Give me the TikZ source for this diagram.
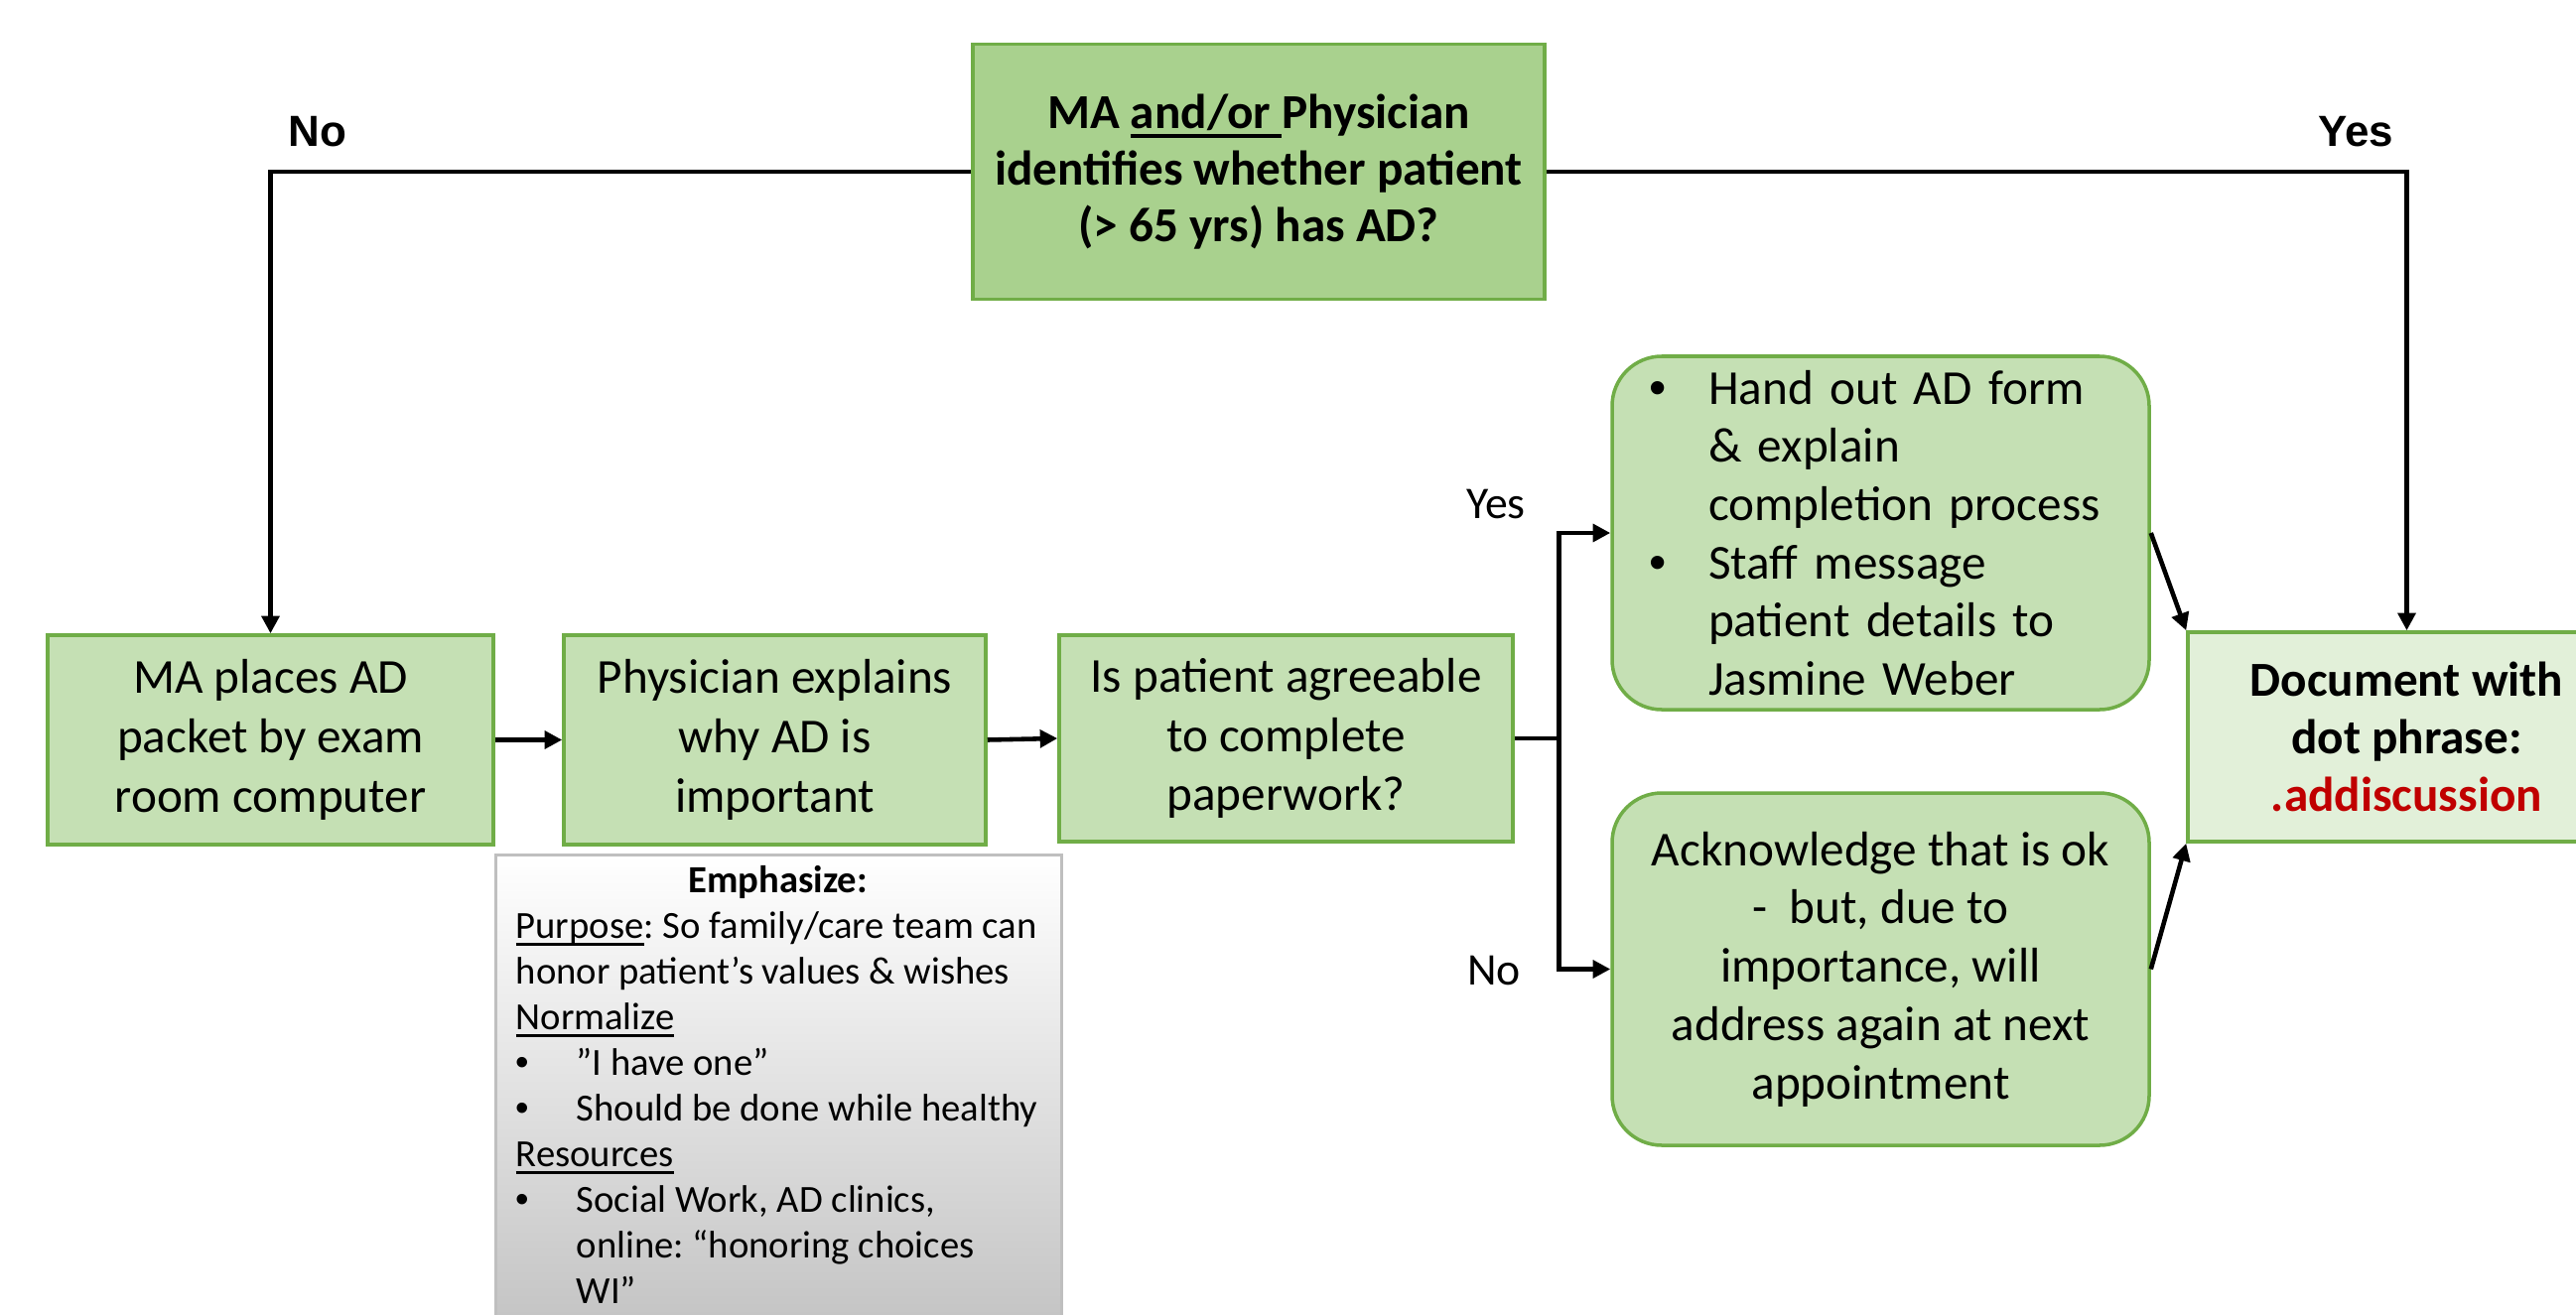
\documentclass[tikz,border=0pt]{standalone}
\usepackage{fontspec}
\setmainfont{Carlito}
\newfontfamily\labelfont{Liberation Sans}
\usetikzlibrary{arrows.meta}

\definecolor{boxgreen}{HTML}{C5E0B4}
\definecolor{topgreen}{HTML}{A9D18E}
\definecolor{docgreen}{HTML}{E2F0D9}
\definecolor{edgegreen}{HTML}{70AD47}
\definecolor{dotred}{HTML}{C00000}
\definecolor{panelgray}{HTML}{BFBFBF}

\newcommand{\bul}{\makebox[0.61cm][l]{{\labelfont •}}}
\newcommand{\hbul}{\hspace*{-0.06cm}\makebox[0.60cm][l]{{\labelfont •}}}
% underline at a fixed distance below the baseline
\newcommand{\uln}[1]{\setbox0\hbox{#1}\rlap{\rule[-0.21em]{\wd0}{0.09em}}\box0}
\frenchspacing

\begin{document}
\begin{tikzpicture}[
  flowbox/.style={draw=edgegreen, line width=1pt, fill=boxgreen, align=center,
    inner sep=0pt, font=\fontsize{14}{17}\selectfont},
  roundbox/.style={flowbox, rounded corners=0.5cm, font=\fontsize{14}{16.7}\selectfont},
  flowline/.style={line width=1.3pt, black},
  flowarrow/.style={flowline, -{Triangle[length=5pt,width=5pt]}},
  mainlabel/.style={font=\labelfont\bfseries\fontsize{12.5}{14}\selectfont, anchor=base},
  sidelabel/.style={font=\fontsize{13}{15}\selectfont, anchor=base}
]
\useasboundingbox (0,0) rectangle (25.95,-13.25);
\clip (0,0) rectangle (25.95,-13.25);

% question at the top
\node[flowbox, fill=topgreen, minimum width=5.76cm, minimum height=2.57cm,
      font=\bfseries\fontsize{14}{16.3}\selectfont] (top) at (12.68,-1.73)
  {MA \uln{and/or\ }Physician\\identifies whether patient\\(> 65 yrs) has AD?};

% main row
\node[flowbox, minimum width=4.49cm, minimum height=2.11cm] (ma) at (2.725,-7.455)
  {MA places AD\\packet by exam\\room computer};
\node[flowbox, minimum width=4.25cm, minimum height=2.11cm] (phys) at (7.805,-7.455)
  {Physician explains\\why AD is\\important};
\node[flowbox, minimum width=4.57cm, minimum height=2.08cm] (agree) at (12.955,-7.44)
  {Is patient agreeable\\to complete\\paperwork?};

% outcomes
\node[roundbox, minimum width=5.41cm, minimum height=3.56cm, text width=4.55cm, align=left] (hand) at (18.945,-5.37)
  {\hbul Hand out AD form\\\hspace*{0.54cm}\& explain\\\hspace*{0.54cm}completion process\\\hbul Staff message\\\hspace*{0.54cm}patient details to\\\hspace*{0.54cm}Jasmine Weber};
\node[roundbox, minimum width=5.41cm, minimum height=3.55cm] (ack) at (18.945,-9.765)
  {Acknowledge that is ok\\-\ \ but, due to\\importance, will\\address again at next\\appointment};

\node[flowbox, fill=docgreen, minimum width=4.41cm, minimum height=2.11cm,
      font=\bfseries\fontsize{14}{16.5}\selectfont] (doc) at (24.245,-7.425)
  {Document with\\dot phrase:\\\textcolor{dotred}{.addiscussion}};

% talking points panel
\node[draw=panelgray, line width=1pt, top color=white, bottom color=black!24,
      anchor=north west, minimum width=5.7cm, minimum height=4.9cm, inner sep=0pt] (emph) at (4.975,-8.595) {};
\node[anchor=base west, inner sep=0pt] (emphtext) at (5.19,-8.99)
  {\parbox[t]{6.2cm}{\fontsize{11}{13.1}\selectfont
   \makebox[5.28cm]{\bfseries Emphasize:}\\
   \uln{Purpose}: So family/care team can\\
   honor patient’s values \& wishes\\
   \uln{Normalize}\\
   \bul”I have one”\\
   \bul Should be done while healthy\\
   \uln{Resources}\\
   \bul Social Work, AD clinics,\\
   \hspace*{0.61cm}online: “honoring choices\\
   \hspace*{0.61cm}WI”}};

% connectors
\draw[flowarrow] (top.west) -| (ma.north);
\draw[flowarrow] (top.east) -| (doc.north);
\draw[flowarrow] (ma.east) -- (phys.west);
\draw[flowarrow] (phys.east) -- (agree.west);
\coordinate (split) at ([xshift=0.45cm]agree.east);
\draw[flowarrow] (agree.east) -- (split) |- (hand.west);
\draw[flowarrow] (split) |- (ack.west);
\draw[flowarrow] (hand.east) -- (doc.north west);
\draw[flowarrow] (ack.east) -- (doc.south west);

% branch labels
\node[mainlabel] (nolabel) at (3.20,-1.47) {No};
\node[mainlabel] (yeslabel) at (23.73,-1.47) {Yes};
\node[sidelabel] (yesside) at (15.07,-5.22) {Yes};
\node[sidelabel] (noside) at (15.05,-9.92) {No};
\end{tikzpicture}
\end{document}
